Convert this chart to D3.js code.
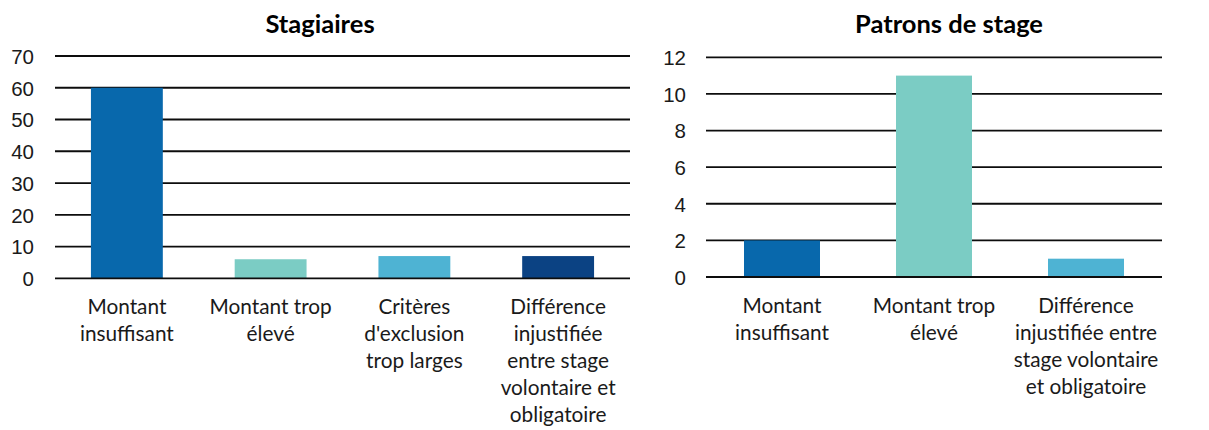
<html>
<head>
  <script src="https://d3js.org/d3.v7.min.js"></script>
  <style>
    body{ margin:0; background:#fff; }
    svg{ display:block; font-family: Lato, "Open Sans", sans-serif; }
    .tick text{ font-size:20.5px; fill:#1a1a1a; }
    .catLabel{ font-size:20.8px; fill:#1a1a1a; }
    .title{ font-size:25.5px; font-weight:bold; fill:#000; }
  </style>
</head>
<body>
  <script type="text/javascript">

    // left chart: Stagiaires
    var stagCategories = [
      ["Montant", "insuffisant"],
      ["Montant trop", "élevé"],
      ["Critères", "d'exclusion", "trop larges"],
      ["Différence", "injustifiée", "entre stage", "volontaire et", "obligatoire"]
    ];
    var stagValues = [60, 6, 7, 7];
    var stagColors = ["#0868ac", "#7bccc4", "#4eb3d3", "#0b4283"];
    var stagTicks = [0, 10, 20, 30, 40, 50, 60, 70];

    // right chart: Patrons de stage
    var patCategories = [
      ["Montant", "insuffisant"],
      ["Montant trop", "élevé"],
      ["Différence", "injustifiée entre", "stage volontaire", "et obligatoire"]
    ];
    var patValues = [2, 11, 1];
    var patColors = ["#0868ac", "#7bccc4", "#4eb3d3"];
    var patTicks = [0, 2, 4, 6, 8, 10, 12];

    var svg = d3.select("body").append("svg")
      .attr("width", 1209)
      .attr("height", 430)

    var drawChart = function(opts){
      var xScale = d3.scaleBand()
        .domain(d3.range(opts.values.length))
        .range([opts.left, opts.right])
        .paddingInner(0.5)
        .paddingOuter(0.25)
      var yScale = d3.scaleLinear()
        .domain([0, d3.max(opts.ticks)])
        .range([opts.bottom, opts.top])

      var g = svg.append("g")

      // gridlines
      g.selectAll("line.grid")
        .data(opts.ticks.filter(function(t){ return t > 0 }))
        .enter()
        .append("line")
        .classed("grid", true)
        .attr("x1", opts.left)
        .attr("x2", opts.right)
        .attr("y1", function(d){ return yScale(d) })
        .attr("y2", function(d){ return yScale(d) })
        .attr("stroke", "#0d0d0d")
        .attr("stroke-width", 1.8)

      // bars
      g.selectAll("rect")
        .data(opts.values)
        .enter()
        .append("rect")
        .attr("x", function(d, i){ return xScale(i) })
        .attr("y", function(d){ return yScale(d) })
        .attr("width", xScale.bandwidth())
        .attr("height", function(d){ return yScale(0) - yScale(d) })
        .attr("fill", function(d, i){ return opts.colors[i] })

      // baseline
      g.append("line")
        .attr("x1", opts.left)
        .attr("x2", opts.right)
        .attr("y1", yScale(0))
        .attr("y2", yScale(0))
        .attr("stroke", "#0d0d0d")
        .attr("stroke-width", 1.8)

      // y axis labels
      var yAxis = d3.axisLeft(yScale)
        .tickValues(opts.ticks)
        .tickSize(0)
        .tickPadding(opts.tickGap)
      var ax = g.append("g")
        .attr("transform", "translate(" + opts.left + ",0)")
        .call(yAxis)
      ax.select(".domain").remove()
      ax.selectAll(".tick text").attr("font-family", null).attr("dy", "0.36em")

      // category labels
      var labels = g.selectAll("text.catLabel")
        .data(opts.categories)
        .enter()
        .append("text")
        .classed("catLabel", true)
        .attr("text-anchor", "middle")
        .attr("x", function(d, i){ return xScale(i) + xScale.bandwidth() / 2 })
        .attr("y", yScale(0) + 36)

      labels.selectAll("tspan")
        .data(function(d){ return d })
        .enter()
        .append("tspan")
        .attr("x", function(){ return d3.select(this.parentNode).attr("x") })
        .attr("dy", function(d, i){ return i === 0 ? 0 : 27 })
        .text(function(d){ return d })

      // title
      g.append("text")
        .classed("title", true)
        .attr("text-anchor", "middle")
        .attr("x", opts.titleX)
        .attr("y", 33)
        .text(opts.title)
    }

    drawChart({
      title: "Stagiaires", titleX: 320,
      categories: stagCategories, values: stagValues, colors: stagColors, ticks: stagTicks,
      left: 55, right: 630, top: 56, bottom: 278.3, tickGap: 21
    })

    drawChart({
      title: "Patrons de stage", titleX: 949,
      categories: patCategories, values: patValues, colors: patColors, ticks: patTicks,
      left: 706, right: 1162, top: 57.3, bottom: 277, tickGap: 20
    })

  </script>
</body>
</html>
